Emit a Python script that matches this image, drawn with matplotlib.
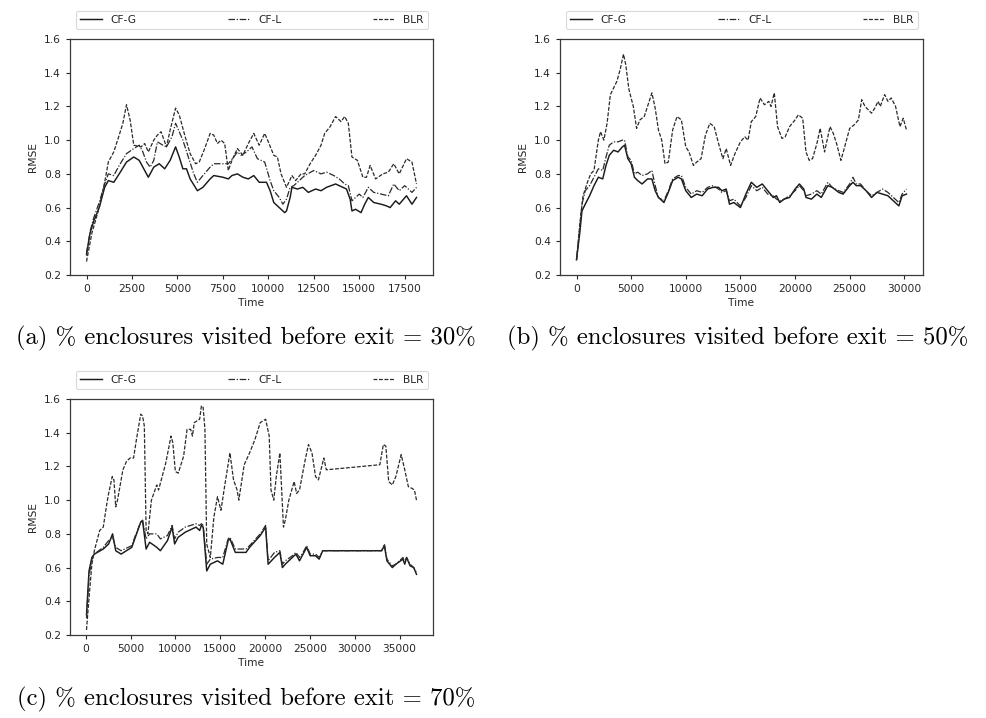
import matplotlib
matplotlib.use("Agg")
import matplotlib.pyplot as plt

# ---------------- data ----------------
series_names = ["CF-G", "CF-L", "BLR"]
y_ticks = [0.2, 0.4, 0.6, 0.8, 1.0, 1.2, 1.4, 1.6]
x_ticks_a = [0, 2500, 5000, 7500, 10000, 12500, 15000, 17500]
x_ticks_b = [0, 5000, 10000, 15000, 20000, 25000, 30000]
x_ticks_c = [0, 5000, 10000, 15000, 20000, 25000, 30000, 35000]
captions = ["(a) % enclosures visited before exit = 30%",
            "(b) % enclosures visited before exit = 50%",
            "(c) % enclosures visited before exit = 70%"]

# Panel (a)
time_a_cfg = [0, 200, 400, 700, 1000, 1200, 1500, 1800, 2200, 2600,
              2900, 3200, 3400, 3700, 4000, 4300, 4600, 4900, 5100, 5300,
              5500, 5700, 6100, 6400, 6800, 7000, 7500, 7800, 8000, 8300,
              8600, 8900, 9200, 9500, 9900, 10100, 10300, 10600, 10900, 11000,
              11200, 11300, 11600, 11900, 12200, 12600, 12900, 13200, 13700, 14100,
              14300, 14500, 14600, 14800, 15100, 15300, 15500, 15800, 16200, 16500,
              16700, 17000, 17200, 17600, 17900, 18150]
rmse_a_cfg = [0.32, 0.45, 0.52, 0.60, 0.72, 0.76, 0.75, 0.80, 0.87, 0.90,
              0.88, 0.82, 0.78, 0.84, 0.86, 0.83, 0.88, 0.96, 0.90, 0.83,
              0.83, 0.77, 0.70, 0.72, 0.77, 0.79, 0.78, 0.77, 0.79, 0.80,
              0.78, 0.77, 0.79, 0.75, 0.75, 0.70, 0.63, 0.60, 0.57, 0.58,
              0.66, 0.72, 0.71, 0.72, 0.69, 0.71, 0.70, 0.72, 0.74, 0.72,
              0.71, 0.65, 0.58, 0.59, 0.57, 0.62, 0.66, 0.63, 0.62, 0.61,
              0.60, 0.64, 0.62, 0.67, 0.62, 0.66]
time_a_cfl = [0, 200, 400, 700, 1000, 1200, 1500, 1800, 2200, 2600,
              2900, 3100, 3300, 3500, 3700, 3900, 4200, 4400, 4700, 4900,
              5100, 5300, 5600, 5900, 6100, 6400, 6800, 7000, 7500, 7800,
              8100, 8300, 8500, 8800, 9100, 9400, 9800, 10100, 10300, 10600,
              10800, 11000, 11200, 11400, 11700, 12000, 12500, 12900, 13200, 13600,
              13900, 14200, 14400, 14600, 14800, 15000, 15200, 15500, 15800, 16200,
              16600, 16900, 17200, 17500, 17900, 18150]
rmse_a_cfl = [0.33, 0.46, 0.54, 0.63, 0.74, 0.80, 0.79, 0.85, 0.92, 0.95,
              0.97, 0.93, 0.87, 0.84, 0.88, 0.99, 0.97, 0.96, 1.02, 1.10,
              1.05, 1.00, 0.90, 0.80, 0.75, 0.79, 0.84, 0.86, 0.86, 0.86,
              0.90, 0.93, 0.91, 0.93, 0.96, 0.89, 0.87, 0.76, 0.70, 0.66,
              0.62, 0.65, 0.72, 0.73, 0.76, 0.79, 0.82, 0.80, 0.81, 0.79,
              0.77, 0.74, 0.73, 0.64, 0.66, 0.68, 0.66, 0.72, 0.69, 0.68,
              0.67, 0.74, 0.70, 0.73, 0.69, 0.72]
time_a_blr = [0, 300, 700, 1000, 1200, 1500, 1800, 2000, 2200, 2400,
              2600, 3000, 3200, 3400, 3700, 3900, 4100, 4400, 4600, 4900,
              5100, 5400, 5700, 6000, 6200, 6500, 6800, 7000, 7200, 7400,
              7600, 7800, 8000, 8300, 8600, 8900, 9200, 9500, 9800, 10000,
              10300, 10500, 10700, 11000, 11300, 11500, 11800, 12000, 12300, 12600,
              12900, 13100, 13400, 13700, 14000, 14200, 14400, 14600, 14900, 15200,
              15400, 15600, 15900, 16300, 16600, 16900, 17200, 17600, 17900, 18150]
rmse_a_blr = [0.28, 0.45, 0.60, 0.75, 0.87, 0.93, 1.03, 1.10, 1.21, 1.12,
              0.97, 0.96, 0.98, 0.93, 1.00, 1.03, 1.05, 0.96, 1.06, 1.19,
              1.15, 1.03, 0.92, 0.86, 0.87, 0.95, 1.04, 1.03, 0.98, 1.00,
              0.98, 0.82, 0.88, 0.95, 0.91, 0.98, 1.04, 0.97, 1.04, 0.99,
              0.91, 0.90, 0.80, 0.72, 0.79, 0.76, 0.80, 0.80, 0.86, 0.91,
              0.97, 1.04, 1.08, 1.14, 1.11, 1.14, 1.10, 0.90, 0.88, 0.78,
              0.78, 0.85, 0.77, 0.80, 0.81, 0.86, 0.80, 0.89, 0.87, 0.74]

# Panel (b)
time_b_cf = [0, 300, 500, 800, 1200, 1600, 2000, 2400, 2700, 3000,
             3400, 3800, 4200, 4400, 4700, 5000, 5300, 5600, 6000, 6500,
             6900, 7200, 7500, 8000, 8400, 8800, 9300, 9600, 10000, 10500,
             11000, 11500, 12000, 12500, 13000, 13300, 13700, 14000, 14400, 15000,
             15500, 16000, 16500, 17000, 17500, 18000, 18300, 18600, 19000, 19500,
             20000, 20400, 20800, 21000, 21500, 22000, 22400, 23000, 23400, 24000,
             24400, 25000, 25300, 25600, 26000, 26500, 27000, 27500, 28000, 28500,
             29000, 29500, 29800, 30200]
rmse_b_cfg = [0.29, 0.45, 0.58, 0.62, 0.67, 0.73, 0.78, 0.77, 0.85, 0.91,
              0.94, 0.93, 0.96, 0.97, 0.89, 0.86, 0.78, 0.76, 0.74, 0.77,
              0.77, 0.70, 0.66, 0.63, 0.69, 0.76, 0.78, 0.77, 0.70, 0.66,
              0.68, 0.67, 0.71, 0.72, 0.72, 0.70, 0.71, 0.62, 0.63, 0.60,
              0.68, 0.75, 0.72, 0.74, 0.70, 0.66, 0.67, 0.63, 0.65, 0.66,
              0.71, 0.74, 0.71, 0.66, 0.65, 0.68, 0.66, 0.73, 0.72, 0.69,
              0.68, 0.73, 0.75, 0.73, 0.73, 0.70, 0.66, 0.69, 0.68, 0.67,
              0.64, 0.61, 0.67, 0.68]
rmse_b_cfl = [0.29, 0.48, 0.62, 0.70, 0.73, 0.78, 0.83, 0.82, 0.90, 0.97,
              0.99, 0.99, 1.00, 1.00, 0.90, 0.88, 0.80, 0.81, 0.79, 0.80,
              0.82, 0.73, 0.66, 0.64, 0.70, 0.77, 0.79, 0.79, 0.72, 0.68,
              0.70, 0.69, 0.72, 0.73, 0.71, 0.69, 0.70, 0.64, 0.65, 0.61,
              0.66, 0.73, 0.70, 0.72, 0.68, 0.67, 0.65, 0.64, 0.65, 0.67,
              0.70, 0.73, 0.70, 0.67, 0.68, 0.70, 0.68, 0.75, 0.72, 0.70,
              0.69, 0.74, 0.78, 0.74, 0.74, 0.70, 0.67, 0.69, 0.71, 0.69,
              0.66, 0.63, 0.68, 0.71]
time_b_blr = [0, 300, 600, 1000, 1300, 1600, 2000, 2200, 2500, 2800,
              3100, 3400, 3700, 4000, 4300, 4500, 4800, 5200, 5500, 5800,
              6200, 6500, 6900, 7200, 7500, 7800, 8100, 8400, 8800, 9200,
              9600, 10000, 10300, 10700, 11000, 11400, 11800, 12200, 12600, 13000,
              13400, 13700, 14100, 14500, 15000, 15400, 15700, 16000, 16400, 16800,
              17200, 17600, 17800, 18100, 18400, 18800, 19100, 19500, 20000, 20300,
              20700, 21000, 21300, 21600, 22000, 22300, 22700, 23200, 23500, 23800,
              24200, 24500, 25000, 25400, 25800, 26100, 26400, 27000, 27300, 27600,
              27800, 28200, 28500, 28800, 29200, 29600, 29900, 30200]
rmse_b_blr = [0.29, 0.50, 0.67, 0.75, 0.80, 0.82, 1.00, 1.05, 1.00, 1.10,
              1.27, 1.31, 1.35, 1.42, 1.51, 1.45, 1.30, 1.20, 1.07, 1.12,
              1.14, 1.20, 1.28, 1.19, 1.06, 1.00, 0.86, 0.87, 1.06, 1.14,
              1.12, 0.96, 0.93, 0.85, 0.87, 0.89, 1.03, 1.10, 1.08, 0.98,
              0.89, 0.95, 0.85, 0.92, 0.99, 1.02, 1.00, 1.11, 1.14, 1.25,
              1.21, 1.23, 1.20, 1.28, 1.08, 1.01, 1.02, 1.08, 1.12, 1.15,
              1.13, 0.93, 0.88, 0.89, 0.98, 1.07, 0.93, 1.08, 1.04, 0.98,
              0.88, 0.95, 1.07, 1.09, 1.12, 1.24, 1.20, 1.16, 1.19, 1.23,
              1.20, 1.27, 1.23, 1.25, 1.20, 1.08, 1.13, 1.06]

# Panel (c)
time_c_cf = [80, 360, 680, 955, 1950, 2550, 2990, 3340, 3940, 5130,
             5530, 6130, 6330, 6730, 7120, 7920, 8320, 9110, 9630, 9910,
             10310, 11100, 12300, 12700, 12900, 13100, 13490, 13890, 14690, 15280,
             15880, 16080, 16680, 17870, 18270, 19460, 20060, 20340, 21050, 21650,
             21930, 22250, 23040, 23440, 23840, 24240, 24640, 25030, 25630, 26030,
             26430, 33000, 33310, 33590, 34190, 34590, 35380, 35580, 35780, 36180,
             36580, 36890]
rmse_c_cfg = [0.32, 0.58, 0.66, 0.68, 0.71, 0.74, 0.80, 0.70, 0.68, 0.72,
              0.78, 0.87, 0.88, 0.71, 0.75, 0.72, 0.70, 0.76, 0.84, 0.74,
              0.78, 0.81, 0.84, 0.82, 0.85, 0.84, 0.58, 0.62, 0.64, 0.62,
              0.76, 0.77, 0.69, 0.69, 0.72, 0.79, 0.84, 0.62, 0.66, 0.69,
              0.60, 0.62, 0.66, 0.68, 0.64, 0.68, 0.72, 0.67, 0.67, 0.65,
              0.70, 0.70, 0.73, 0.64, 0.60, 0.62, 0.65, 0.62, 0.66, 0.61,
              0.60, 0.56]
rmse_c_cfl = [0.30, 0.55, 0.65, 0.68, 0.72, 0.76, 0.78, 0.72, 0.70, 0.73,
              0.79, 0.87, 0.88, 0.77, 0.80, 0.80, 0.77, 0.79, 0.85, 0.77,
              0.81, 0.84, 0.86, 0.85, 0.86, 0.85, 0.62, 0.65, 0.66, 0.66,
              0.77, 0.78, 0.71, 0.71, 0.73, 0.80, 0.85, 0.64, 0.69, 0.70,
              0.62, 0.64, 0.67, 0.69, 0.66, 0.69, 0.73, 0.68, 0.68, 0.66,
              0.70, 0.70, 0.74, 0.65, 0.61, 0.62, 0.66, 0.63, 0.66, 0.62,
              0.60, 0.57]
time_c_blr = [80, 360, 680, 955, 1550, 1950, 2350, 2550, 2950, 3140,
              3340, 3540, 4140, 4540, 4940, 5330, 5650, 6130, 6330, 6530,
              6730, 6930, 7320, 7920, 8120, 8920, 9510, 9710, 9990, 10310,
              10910, 11300, 11700, 11900, 12100, 12700, 12900, 13090, 13290, 13490,
              13890, 14290, 14690, 15080, 15480, 16080, 16480, 16880, 17070, 17670,
              18270, 18870, 19460, 20060, 20460, 20660, 20970, 21250, 21650, 22050,
              22250, 22650, 23240, 23520, 23840, 24440, 24840, 25230, 25630, 25950,
              26230, 26550, 26830, 32800, 33190, 33470, 33790, 34190, 34590, 35180,
              35580, 35980, 36380, 36660, 36890]
rmse_c_blr = [0.23, 0.42, 0.62, 0.70, 0.82, 0.84, 0.98, 1.04, 1.14, 1.12,
              0.96, 1.00, 1.18, 1.23, 1.25, 1.25, 1.36, 1.51, 1.50, 1.44,
              0.82, 0.80, 1.00, 1.09, 1.06, 1.22, 1.38, 1.34, 1.17, 1.16,
              1.26, 1.42, 1.42, 1.38, 1.46, 1.48, 1.56, 1.55, 1.42, 0.74,
              0.66, 0.90, 1.02, 0.94, 1.08, 1.28, 1.12, 1.06, 1.00, 1.21,
              1.28, 1.36, 1.46, 1.48, 1.38, 1.06, 1.00, 1.14, 1.28, 0.84,
              0.88, 1.00, 1.11, 1.04, 1.06, 1.23, 1.33, 1.28, 1.14, 1.12,
              1.18, 1.25, 1.18, 1.21, 1.33, 1.32, 1.11, 1.09, 1.14, 1.27,
              1.18, 1.08, 1.07, 1.06, 1.00]

# ---------------- figure ----------------
W, H = 987, 718
fig = plt.figure(figsize=(W / 100, H / 100), dpi=100)

text_color = "#262626"
FS = 7.7

styles = [dict(color="#1a1a1a", lw=1.05, linestyle="-"),
          dict(color="#2a2a2a", lw=0.9, linestyle=(0, (5.2, 1.4, 1.0, 1.4))),
          dict(color="#2a2a2a", lw=0.9, linestyle=(0, (3.1, 1.3)))]


def px_axes(left, top, right, bottom):
    return fig.add_axes([left / W, 1 - bottom / H, (right - left) / W, (bottom - top) / H])


panels = [
    (px_axes(70, 39, 433, 275), x_ticks_a,
     [(time_a_cfg, rmse_a_cfg), (time_a_cfl, rmse_a_cfl), (time_a_blr, rmse_a_blr)]),
    (px_axes(560, 39, 923, 275), x_ticks_b,
     [(time_b_cf, rmse_b_cfg), (time_b_cf, rmse_b_cfl), (time_b_blr, rmse_b_blr)]),
    (px_axes(70, 399, 433, 635), x_ticks_c,
     [(time_c_cf, rmse_c_cfg), (time_c_cf, rmse_c_cfl), (time_c_blr, rmse_c_blr)]),
]

for ax, xt, data in panels:
    for (t, v), name, st in zip(data, series_names, styles):
        ax.plot(t, v, label=name, **st)
    ax.set_ylim(0.2, 1.6)
    ax.set_yticks(y_ticks)
    ax.set_yticklabels([f"{v:.1f}" for v in y_ticks])
    ax.set_xticks(xt)
    ax.set_xticklabels([str(v) for v in xt])
    ax.margins(x=0.05)
    ax.set_xlabel("Time", fontsize=FS, color=text_color, labelpad=3)
    ax.set_ylabel("RMSE", fontsize=FS, color=text_color, labelpad=4)
    ax.tick_params(labelsize=FS, colors=text_color, length=3, width=0.8)
    for sp in ax.spines.values():
        sp.set_color("#3a3a3a")
        sp.set_linewidth(0.9)
    leg = ax.legend(loc="lower left", bbox_to_anchor=(0.0165, 1.042, 0.970, 0.08),
                    mode="expand", ncol=3, borderaxespad=0, fontsize=FS,
                    handlelength=2.0, frameon=True, fancybox=True)
    leg.get_frame().set_edgecolor("#d0d0d0")
    leg.get_frame().set_linewidth(0.8)
    for txt in leg.get_texts():
        txt.set_color(text_color)

cap_font = dict(family=["cmr10", "DejaVu Serif"], fontsize=17.8, color="black",
                ha="center", va="center")
fig.text(245.5 / W, 1 - 338 / H, captions[0], **cap_font)
fig.text(738 / W, 1 - 338 / H, captions[1], **cap_font)
fig.text(246 / W, 1 - 699 / H, captions[2], **cap_font)

fig.savefig("out.png", dpi=100)
